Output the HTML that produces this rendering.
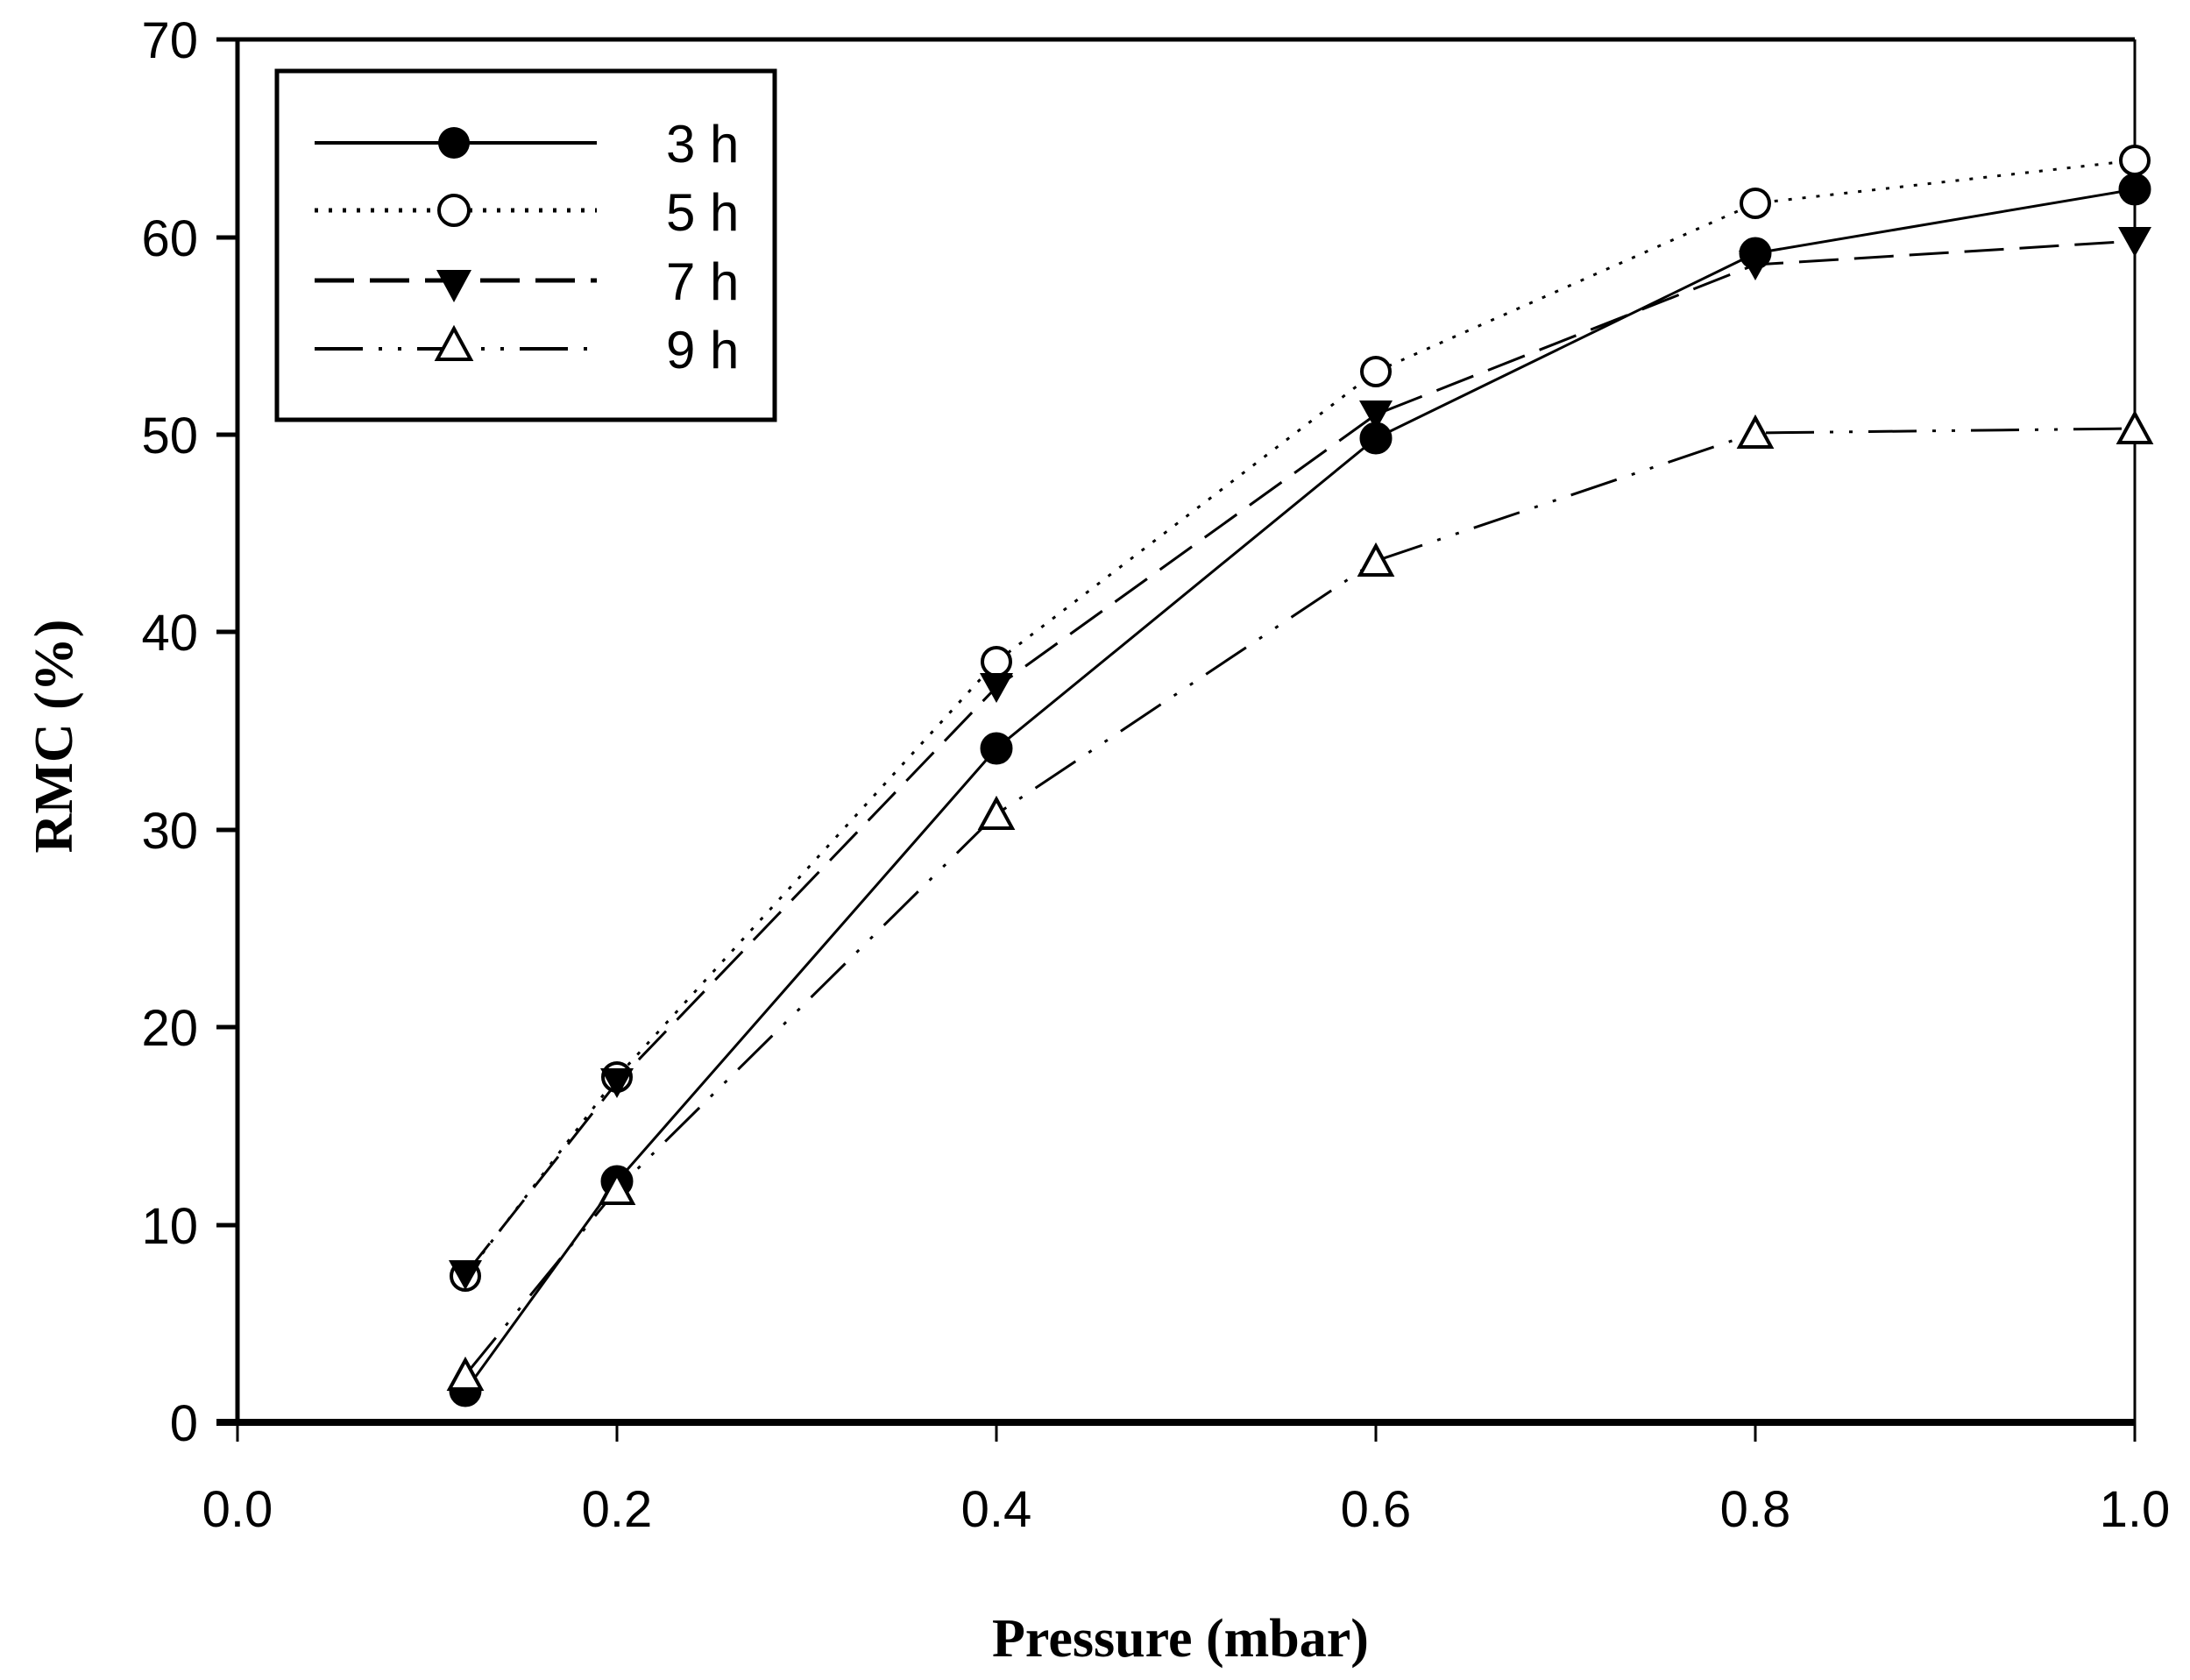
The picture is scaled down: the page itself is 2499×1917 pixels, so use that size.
<!DOCTYPE html>
<html><head><meta charset="utf-8"><style>html,body{margin:0;padding:0;background:#fff}svg{display:block}</style></head>
<body>
<svg width="2499" height="1917" viewBox="0 0 2499 1917" xmlns="http://www.w3.org/2000/svg">
<rect width="2499" height="1917" fill="#fff"/>
<g stroke="#000" fill="none" stroke-linecap="butt">
<line x1="271" y1="45" x2="2436" y2="45" stroke-width="5"/>
<line x1="2436" y1="45" x2="2436" y2="1623" stroke-width="3"/>
<line x1="271" y1="45" x2="271" y2="1623" stroke-width="5"/>
<line x1="247" y1="1623" x2="2436" y2="1623" stroke-width="8"/>
<g stroke-width="5">
<line x1="247" y1="45" x2="271" y2="45"/>
<line x1="247" y1="271" x2="271" y2="271"/>
<line x1="247" y1="496" x2="271" y2="496"/>
<line x1="247" y1="721" x2="271" y2="721"/>
<line x1="247" y1="947" x2="271" y2="947"/>
<line x1="247" y1="1172" x2="271" y2="1172"/>
<line x1="247" y1="1398" x2="271" y2="1398"/>
</g>
<g stroke-width="3">
<line x1="271" y1="1623" x2="271" y2="1645"/>
<line x1="704" y1="1623" x2="704" y2="1645"/>
<line x1="1137" y1="1623" x2="1137" y2="1645"/>
<line x1="1570" y1="1623" x2="1570" y2="1645"/>
<line x1="2003" y1="1623" x2="2003" y2="1645"/>
<line x1="2436" y1="1623" x2="2436" y2="1645"/>
</g>
</g>
<g font-family="Liberation Sans, sans-serif" font-size="58" fill="#000" text-anchor="end">
<text x="226" y="66">70</text><text x="226" y="292">60</text><text x="226" y="517">50</text>
<text x="226" y="742">40</text><text x="226" y="968">30</text><text x="226" y="1193">20</text>
<text x="226" y="1419">10</text><text x="226" y="1644">0</text>
</g>
<g font-family="Liberation Sans, sans-serif" font-size="58" fill="#000" text-anchor="middle">
<text x="271" y="1742">0.0</text><text x="704" y="1742">0.2</text><text x="1137" y="1742">0.4</text>
<text x="1570" y="1742">0.6</text><text x="2003" y="1742">0.8</text><text x="2436" y="1742">1.0</text>
</g>
<text x="1347" y="1890" font-family="Liberation Serif, serif" font-weight="bold" font-size="62" text-anchor="middle">Pressure (mbar)</text>
<text transform="translate(82,840) rotate(-90)" font-family="Liberation Serif, serif" font-weight="bold" font-size="62" text-anchor="middle">RMC (%)</text>

<g fill="none" stroke="#000" stroke-width="3">
<polyline points="531,1587 704,1348 1137,854 1570,500 2003,289 2436,216"/>
<polyline stroke-dasharray="4,12" points="531,1456 704,1229 1137,755 1570,424 2003,232 2436,183"/>
<polyline stroke-dasharray="45,18" points="531,1454 704,1235 1137,784 1570,473 2003,302 2436,275"/>
<polyline stroke-dasharray="55,18,4,18,4,18" points="531,1569 704,1357 1137,929 1570,640 2003,494 2436,489"/>
</g>
<g fill="#000" stroke="#000" stroke-width="3">
<circle cx="531" cy="1587" r="17"/><circle cx="704" cy="1348" r="17"/><circle cx="1137" cy="854" r="17"/>
<circle cx="1570" cy="500" r="17"/><circle cx="2003" cy="289" r="17"/><circle cx="2436" cy="216" r="17"/>
</g>
<g fill="#fff" stroke="#000" stroke-width="4">
<circle cx="531" cy="1456" r="16"/><circle cx="704" cy="1229" r="16"/><circle cx="1137" cy="755" r="16"/>
<circle cx="1570" cy="424" r="16"/><circle cx="2003" cy="232" r="16"/><circle cx="2436" cy="183" r="16"/>
</g>
<g fill="#000">
<polygon points="512,1438 550,1438 531,1472"/><polygon points="685,1219 723,1219 704,1253"/>
<polygon points="1118,768 1156,768 1137,802"/><polygon points="1551,457 1589,457 1570,491"/>
<polygon points="1984,286 2022,286 2003,320"/><polygon points="2417,259 2455,259 2436,293"/>
</g>
<g fill="#fff" stroke="#000" stroke-width="4" stroke-linejoin="miter">
<polygon points="531,1552 549,1585 513,1585"/><polygon points="704,1340 722,1373 686,1373"/>
<polygon points="1137,912 1155,945 1119,945"/><polygon points="1570,623 1588,656 1552,656"/>
<polygon points="2003,477 2021,510 1985,510"/><polygon points="2436,472 2454,505 2418,505"/>
</g>

<rect x="316" y="81" width="568" height="398" fill="#fff" stroke="#000" stroke-width="5"/>
<g fill="none" stroke="#000" stroke-width="4">
<line x1="359" y1="163" x2="681" y2="163"/>
<line x1="359" y1="240" x2="681" y2="240" stroke-dasharray="4,12" stroke-width="5"/>
<line x1="359" y1="320" x2="681" y2="320" stroke-dasharray="45,18" stroke-width="5"/>
<line x1="359" y1="398" x2="681" y2="398" stroke-dasharray="55,18,4,18,4,18"/>
</g>
<circle cx="518" cy="163" r="18" fill="#000"/>
<circle cx="518" cy="240" r="17" fill="#fff" stroke="#000" stroke-width="4"/>
<polygon points="498,308 538,308 518,345" fill="#000"/>
<polygon points="518,375 537,410 499,410" fill="#fff" stroke="#000" stroke-width="4"/>
<g font-family="Liberation Sans, sans-serif" font-size="60" fill="#000">
<text x="760" y="185">3 h</text><text x="760" y="263">5 h</text>
<text x="760" y="342">7 h</text><text x="760" y="420">9 h</text>
</g>
</svg>
</body></html>
